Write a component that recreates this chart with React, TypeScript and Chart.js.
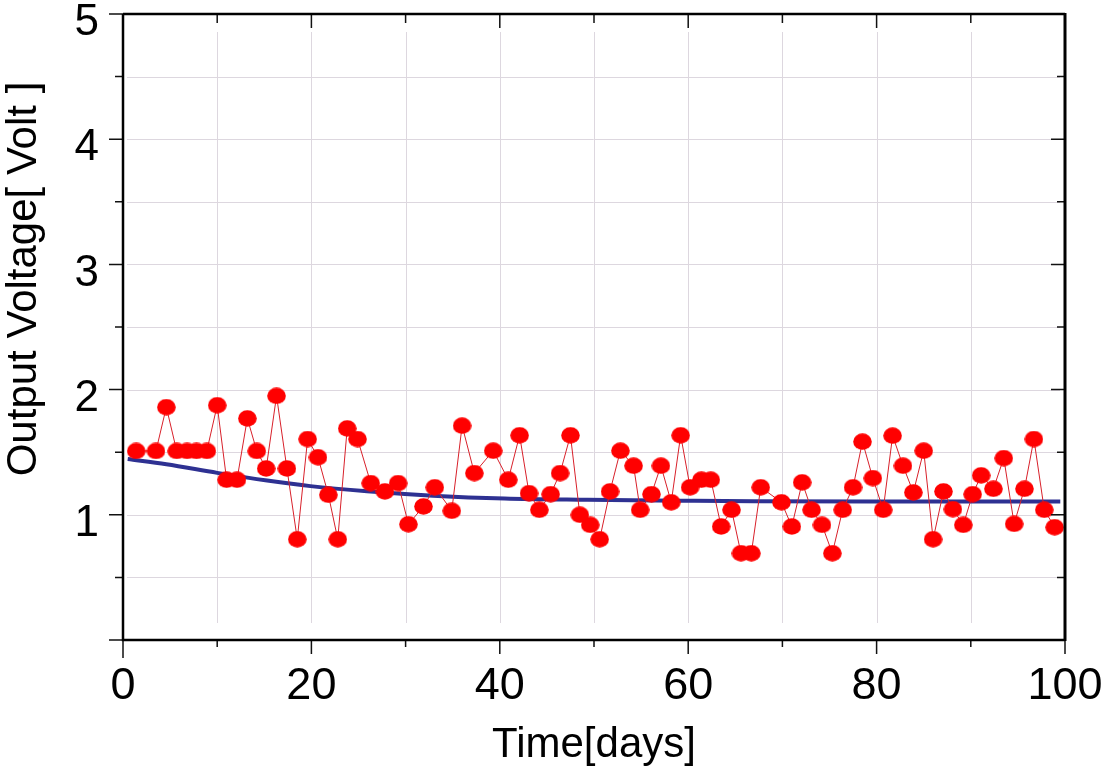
import React, { useEffect, useRef } from 'react';
import { Chart, registerables } from 'chart.js';

Chart.register(...registerables);

// ---- data ----
const days = [1.4, 3.5, 4.6, 5.7, 6.8, 7.8, 8.9, 10.0, 11.0, 12.1, 13.2, 14.2, 15.2, 16.3, 17.4, 18.5, 19.6, 20.7, 21.8, 22.8, 23.8, 24.9, 26.3, 27.8, 29.2, 30.3, 31.9, 33.1, 34.9, 36.0, 37.3, 39.3, 40.9, 42.1, 43.1, 44.2, 45.4, 46.4, 47.5, 48.5, 49.6, 50.6, 51.7, 52.8, 54.2, 54.9, 56.1, 57.1, 58.2, 59.2, 60.2, 61.4, 62.4, 63.5, 64.6, 65.6, 66.7, 67.7, 69.9, 71.0, 72.1, 73.1, 74.2, 75.3, 76.4, 77.5, 78.5, 79.6, 80.7, 81.7, 82.8, 83.9, 85.0, 86.0, 87.1, 88.1, 89.2, 90.2, 91.1, 92.4, 93.5, 94.6, 95.7, 96.7, 97.8, 98.9];
const volts = [1.51, 1.51, 1.86, 1.51, 1.51, 1.51, 1.51, 1.875, 1.28, 1.28, 1.77, 1.51, 1.37, 1.95, 1.37, 0.805, 1.605, 1.46, 1.16, 0.805, 1.69, 1.605, 1.253, 1.187, 1.253, 0.925, 1.067, 1.22, 1.032, 1.712, 1.333, 1.512, 1.28, 1.635, 1.173, 1.04, 1.165, 1.333, 1.635, 1.0, 0.92, 0.805, 1.187, 1.512, 1.392, 1.04, 1.165, 1.392, 1.10, 1.635, 1.22, 1.28, 1.28, 0.907, 1.04, 0.693, 0.693, 1.22, 1.10, 0.907, 1.259, 1.04, 0.92, 0.693, 1.04, 1.22, 1.584, 1.293, 1.04, 1.632, 1.392, 1.179, 1.512, 0.805, 1.187, 1.045, 0.92, 1.165, 1.315, 1.208, 1.453, 0.928, 1.208, 1.605, 1.04, 0.901];
const trendDays = [0.5, 4.6, 10, 15.3, 19.9, 25.9, 32.9, 40.5, 49.3, 60, 67, 80, 90, 99.5];
const trendVolts = [1.445, 1.403, 1.335, 1.274, 1.229, 1.188, 1.153, 1.13, 1.12, 1.112, 1.108, 1.106, 1.106, 1.106];

const xTickValues = [0, 20, 40, 60, 80, 100];
const yTickValues = [1, 2, 3, 4, 5];
const xGridValues = [10, 20, 30, 40, 50, 60, 70, 80, 90];
const yGridValues = [0.5, 1, 1.5, 2, 2.5, 3, 3.5, 4, 4.5];
const xMarkValues = [0, 10, 20, 30, 40, 50, 60, 70, 80, 90, 100];
const yMarkValues = [0, 0.5, 1, 1.5, 2, 2.5, 3, 3.5, 4, 4.5, 5];

const xTitle = 'Time[days]';
const yTitle = 'Output Voltage[ Volt ]';

const FONT = '"Liberation Sans", Arial, Helvetica, sans-serif';

function makeDot(): HTMLCanvasElement {
  const c = document.createElement('canvas');
  c.width = 19;
  c.height = 17;
  const g = c.getContext('2d')!;
  g.fillStyle = '#ff0000';
  g.beginPath();
  g.ellipse(9.5, 8.5, 9.3, 8.3, 0, 0, Math.PI * 2);
  g.fill();
  return c;
}

const framePlugin = {
  id: 'framePlugin',
  beforeDatasetsDraw(chart: any) {
    const { ctx, chartArea: a, scales } = chart;
    const x = scales.x;
    const y = scales.y;
    ctx.save();
    ctx.strokeStyle = '#ddd7df';
    ctx.lineWidth = 1;
    for (const v of xGridValues) {
      const px = Math.round(x.getPixelForValue(v)) + 0.5;
      ctx.beginPath();
      ctx.moveTo(px, a.top + 18);
      ctx.lineTo(px, a.bottom - 17);
      ctx.stroke();
    }
    for (const v of yGridValues) {
      const py = Math.round(y.getPixelForValue(v)) + 0.5;
      ctx.beginPath();
      ctx.moveTo(a.left + 4, py);
      ctx.lineTo(a.right - 5, py);
      ctx.stroke();
    }
    ctx.restore();
  },
  afterDraw(chart: any) {
    const { ctx, chartArea: a, scales } = chart;
    const x = scales.x;
    const y = scales.y;
    ctx.save();
    ctx.strokeStyle = '#111';
    ctx.lineWidth = 1.5;
    // y tick marks (left outside, right inside)
    for (const v of yMarkValues) {
      const py = y.getPixelForValue(v);
      const len = Number.isInteger(v) ? 14 : 8;
      ctx.beginPath();
      ctx.moveTo(a.left - len, py);
      ctx.lineTo(a.left, py);
      ctx.moveTo(a.right - len, py);
      ctx.lineTo(a.right, py);
      ctx.stroke();
    }
    // x tick marks (bottom outside, top inside)
    for (const v of xMarkValues) {
      const px = x.getPixelForValue(v);
      const len = v % 20 === 0 ? 14 : 7;
      const blen = v === 0 ? 18 : len;
      ctx.beginPath();
      ctx.moveTo(px, a.bottom);
      ctx.lineTo(px, a.bottom + blen);
      ctx.moveTo(px, a.top);
      ctx.lineTo(px, a.top + (v % 20 === 0 ? 14 : 9));
      ctx.stroke();
    }
    // frame
    ctx.strokeStyle = '#000';
    ctx.lineWidth = 2.5;
    ctx.beginPath();
    ctx.moveTo(a.left, a.top);
    ctx.lineTo(a.left, a.bottom);
    ctx.lineTo(a.right, a.bottom);
    ctx.moveTo(a.left, a.top);
    ctx.lineTo(a.right, a.top);
    ctx.stroke();
    ctx.lineWidth = 3;
    ctx.beginPath();
    ctx.moveTo(a.right, a.top - 1);
    ctx.lineTo(a.right, a.bottom + 1);
    ctx.stroke();

    // axis titles
    ctx.fillStyle = '#000';
    ctx.font = `42px ${FONT}`;
    ctx.textAlign = 'center';
    ctx.textBaseline = 'alphabetic';
    ctx.fillText(xTitle, (a.left + a.right) / 2, a.bottom + 117);
    ctx.translate(a.left - 87, (a.top + a.bottom) / 2 - 48);
    ctx.rotate(-Math.PI / 2);
    ctx.fillText(yTitle, 0, 0);
    ctx.restore();
  },
};

export default function App() {
  const ref = useRef<HTMLCanvasElement | null>(null);

  useEffect(() => {
    if (!ref.current) return;
    const dot = makeDot();
    const chart = new Chart(ref.current, {
      type: 'line',
      data: {
        datasets: [
          {
            label: 'Trend',
            data: trendDays.map((d, i) => ({ x: d, y: trendVolts[i] })),
            borderColor: '#2E3192',
            borderWidth: 4,
            pointRadius: 0,
            cubicInterpolationMode: 'monotone',
            fill: false,
            order: 2,
          },
          {
            label: 'Output Voltage',
            data: days.map((d, i) => ({ x: d, y: volts[i] })),
            borderColor: '#d8202a',
            borderWidth: 1,
            pointStyle: dot as any,
            pointRadius: 9,
            pointBackgroundColor: '#ff0000',
            pointBorderColor: '#ff0000',
            tension: 0,
            fill: false,
            order: 1,
          },
        ],
      },
      options: {
        responsive: false,
        animation: false,
        devicePixelRatio: 1,
        events: [],
        layout: { padding: { top: 14, right: 37, left: 0, bottom: 0 } },
        plugins: { legend: { display: false }, tooltip: { enabled: false } },
        scales: {
          x: {
            type: 'linear',
            min: 0,
            max: 100,
            grid: { display: false, drawTicks: false },
            border: { display: false },
            ticks: {
              font: { size: 45, family: FONT },
              color: '#000',
              padding: 20,
              maxRotation: 0,
              autoSkip: false,
            },
            afterBuildTicks: (s: any) => {
              s.ticks = xTickValues.map((v) => ({ value: v }));
            },
            afterFit: (s: any) => {
              s.height = 129;
              s.paddingLeft = 0;
              s.paddingRight = 0;
            },
          },
          y: {
            type: 'linear',
            min: 0,
            max: 5,
            grid: { display: false, drawTicks: false },
            border: { display: false },
            ticks: {
              font: { size: 44, family: FONT },
              color: '#000',
              padding: 24,
              labelOffset: 9,
              autoSkip: false,
            },
            afterBuildTicks: (s: any) => {
              s.ticks = yTickValues.map((v) => ({ value: v }));
            },
            afterFit: (s: any) => {
              s.width = 123;
              s.paddingTop = 0;
              s.paddingBottom = 0;
            },
          },
        },
      },
      plugins: [framePlugin],
    } as any);
    return () => chart.destroy();
  }, []);

  return (
    <div style={{ position: 'absolute', left: 0, top: 0, width: 1102, height: 769, background: '#fff' }}>
      <canvas ref={ref} width={1102} height={769} style={{ display: 'block' }} />
    </div>
  );
}
